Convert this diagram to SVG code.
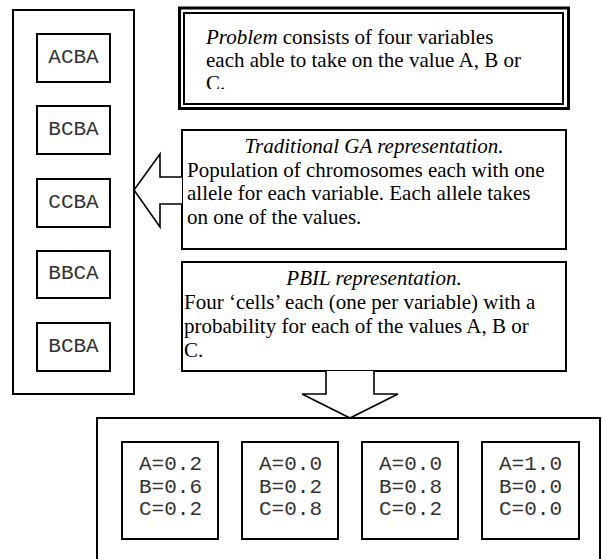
<svg xmlns="http://www.w3.org/2000/svg" width="602" height="559" viewBox="0 0 602 559">
  <style>
    .box { fill: #fff; stroke: #000; stroke-width: 2; }
    .arrow { fill: #fff; stroke: #000; stroke-width: 1.6; stroke-linejoin: miter; }
    .serif { font-family: "Liberation Serif", "Times New Roman", serif; font-size: 21px; fill: #000; }
    .mono { font-family: "Liberation Mono", "Courier New", monospace; font-size: 21px; fill: #333; }
    .it { font-style: italic; }
  </style>
  <defs>
    <clipPath id="problemClip">
      <rect x="184" y="14" width="376" height="75"/>
    </clipPath>
  </defs>

  <!-- population of chromosomes -->
  <g id="population">
    <rect class="box" x="13" y="10" width="121" height="384"/>
    <g id="chrom1"><rect class="box" x="37" y="34" width="73" height="48"/><text class="mono" x="73.5" y="63" text-anchor="middle">ACBA</text></g>
    <g id="chrom2"><rect class="box" x="37" y="106" width="73" height="48"/><text class="mono" x="73.5" y="135" text-anchor="middle">BCBA</text></g>
    <g id="chrom3"><rect class="box" x="37" y="179" width="73" height="48"/><text class="mono" x="73.5" y="208" text-anchor="middle">CCBA</text></g>
    <g id="chrom4"><rect class="box" x="37" y="251" width="73" height="47"/><text class="mono" x="73.5" y="279" text-anchor="middle">BBCA</text></g>
    <g id="chrom5"><rect class="box" x="37" y="323" width="73" height="48"/><text class="mono" x="73.5" y="352" text-anchor="middle">BCBA</text></g>
  </g>

  <!-- problem statement, double border -->
  <g id="problem">
    <rect fill="#fff" stroke="#000" stroke-width="3" x="179.5" y="8" width="389" height="100.5"/>
    <rect fill="none" stroke="#000" stroke-width="2" x="184" y="13" width="379" height="91"/>
    <g clip-path="url(#problemClip)">
      <text class="serif" x="206" y="44"><tspan class="it">Problem</tspan> consists of four variables</text>
      <text class="serif" x="206" y="67">each able to take on the value A, B or</text>
      <text class="serif" x="206" y="90">C.</text>
    </g>
  </g>

  <!-- traditional GA representation -->
  <g id="traditional">
    <rect class="box" x="182" y="130" width="384" height="119"/>
    <text class="serif it" x="374" y="153" text-anchor="middle">Traditional GA representation.</text>
    <text class="serif" x="187" y="177">Population of chromosomes each with one</text>
    <text class="serif" x="187" y="200">allele for each variable. Each allele takes</text>
    <text class="serif" x="187" y="224">on one of the values.</text>
  </g>

  <!-- PBIL representation -->
  <g id="pbil">
    <rect class="box" x="182" y="262" width="384" height="109"/>
    <text class="serif it" x="374" y="285" text-anchor="middle">PBIL representation.</text>
    <text class="serif" x="184" y="309">Four ‘cells’ each (one per variable) with a</text>
    <text class="serif" x="184" y="333">probability for each of the values A, B or</text>
    <text class="serif" x="184" y="357">C.</text>
  </g>

  <!-- probability vector -->
  <g id="vector">
    <rect class="box" x="97" y="418" width="503" height="160"/>
    <g id="cell1"><rect class="box" x="122" y="442" width="96" height="97"/>
      <text class="mono" x="139" y="470">A=0.2</text><text class="mono" x="139" y="493">B=0.6</text><text class="mono" x="139" y="515">C=0.2</text></g>
    <g id="cell2"><rect class="box" x="242" y="442" width="96" height="97"/>
      <text class="mono" x="259" y="470">A=0.0</text><text class="mono" x="259" y="493">B=0.2</text><text class="mono" x="259" y="515">C=0.8</text></g>
    <g id="cell3"><rect class="box" x="362" y="442" width="96" height="97"/>
      <text class="mono" x="379" y="470">A=0.0</text><text class="mono" x="379" y="493">B=0.8</text><text class="mono" x="379" y="515">C=0.2</text></g>
    <g id="cell4"><rect class="box" x="482" y="442" width="97" height="97"/>
      <text class="mono" x="499" y="470">A=1.0</text><text class="mono" x="499" y="493">B=0.0</text><text class="mono" x="499" y="515">C=0.0</text></g>
  </g>

  <!-- block arrows -->
  <g id="connectors">
    <polyline class="arrow" points="182,177 160,177 160,154 134,190 160,227 160,204 182,204"/>
    <polyline class="arrow" points="326,371 326,394 302,394 350,418 398,394 374,394 374,371"/>
  </g>
</svg>
